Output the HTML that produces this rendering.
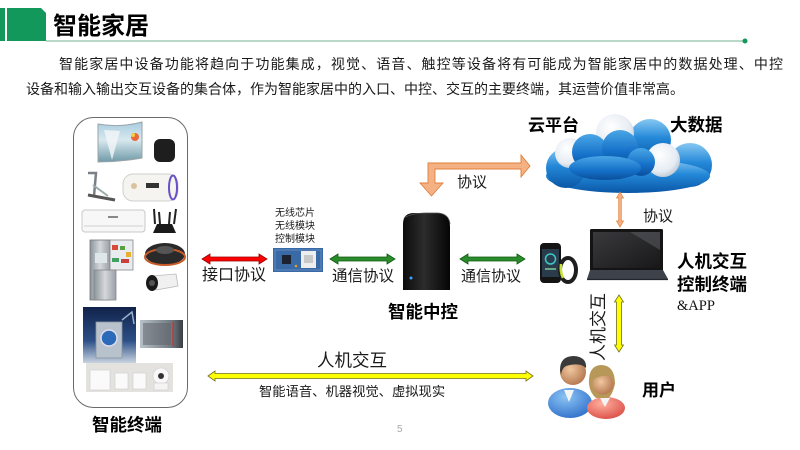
<!DOCTYPE html>
<html><head><meta charset="utf-8">
<style>
html,body{margin:0;padding:0;background:#fff;}
body{width:800px;height:450px;overflow:hidden;position:relative;}
svg{position:absolute;left:0;top:0;}
text{font-family:"Liberation Sans","Noto Sans CJK SC",sans-serif;fill:#1a1a1a;}
.b{font-weight:bold;fill:#000;}
</style></head>
<body>
<svg width="800" height="450" viewBox="0 0 800 450" xmlns="http://www.w3.org/2000/svg">
<defs>
  <linearGradient id="gBlue" x1="0" y1="0" x2="0" y2="1">
    <stop offset="0" stop-color="#86c8f2"/><stop offset="0.45" stop-color="#2488d8"/><stop offset="1" stop-color="#0a56a6"/>
  </linearGradient>
  <linearGradient id="gBlue2" x1="0" y1="0" x2="0" y2="1">
    <stop offset="0" stop-color="#4aa6e6"/><stop offset="0.6" stop-color="#1470c8"/><stop offset="1" stop-color="#0b4f9c"/>
  </linearGradient>
  <radialGradient id="gWhite" cx="0.4" cy="0.35" r="0.7">
    <stop offset="0" stop-color="#ffffff"/><stop offset="0.7" stop-color="#e6ecf3"/><stop offset="1" stop-color="#b9c6d4"/>
  </radialGradient>
  <linearGradient id="gHub" x1="0" y1="0" x2="1" y2="0">
    <stop offset="0" stop-color="#0c0c0c"/><stop offset="0.45" stop-color="#2c2c2c"/><stop offset="0.7" stop-color="#1a1a1a"/><stop offset="1" stop-color="#050505"/>
  </linearGradient>
  <linearGradient id="gScreen" x1="0" y1="0" x2="1" y2="1">
    <stop offset="0" stop-color="#3a3a3e"/><stop offset="1" stop-color="#18181a"/>
  </linearGradient>
  <linearGradient id="gTV" x1="0" y1="0" x2="0" y2="1">
    <stop offset="0" stop-color="#a8cde0"/><stop offset="0.45" stop-color="#d8e8ee"/><stop offset="1" stop-color="#6f9aa8"/>
  </linearGradient>
  <linearGradient id="gSilver" x1="0" y1="0" x2="1" y2="0">
    <stop offset="0" stop-color="#8c939a"/><stop offset="0.5" stop-color="#d4d8dc"/><stop offset="1" stop-color="#9aa0a6"/>
  </linearGradient>
  <linearGradient id="gWash" x1="0" y1="0" x2="0" y2="1">
    <stop offset="0" stop-color="#10224a"/><stop offset="0.6" stop-color="#2c4f86"/><stop offset="1" stop-color="#c9d3e0"/>
  </linearGradient>
  <linearGradient id="gMicro" x1="0" y1="0" x2="1" y2="0">
    <stop offset="0" stop-color="#b8c0c8"/><stop offset="0.75" stop-color="#6e767e"/><stop offset="1" stop-color="#3a3e44"/>
  </linearGradient>
  <radialGradient id="gSkin" cx="0.4" cy="0.4" r="0.7">
    <stop offset="0" stop-color="#f0c8a0"/><stop offset="1" stop-color="#b07048"/>
  </radialGradient>
  <radialGradient id="gShirtB" cx="0.4" cy="0.3" r="0.8">
    <stop offset="0" stop-color="#8cc4f4"/><stop offset="1" stop-color="#2a6ac8"/>
  </radialGradient>
  <radialGradient id="gShirtR" cx="0.4" cy="0.3" r="0.8">
    <stop offset="0" stop-color="#ffb0a0"/><stop offset="1" stop-color="#d84840"/>
  </radialGradient>
</defs>

<!-- Header -->
<rect x="0" y="8" width="5" height="33" fill="#12985a"/>
<path d="M7,8 L41,8 L46,13 L46,41 L7,41 Z" fill="#12985a"/>
<line x1="46" y1="41" x2="745" y2="41" stroke="#8fc2a8" stroke-width="1.2"/>
<circle cx="745" cy="41" r="2.5" fill="#12985a"/>
<text x="53" y="34" class="b" font-size="24">智能家居</text>

<!-- Paragraph -->
<text x="59" y="69" font-size="14" textLength="724" lengthAdjust="spacing">智能家居中设备功能将趋向于功能集成，视觉、语音、触控等设备将有可能成为智能家居中的数据处理、中控</text>
<text x="26" y="94" font-size="14">设备和输入输出交互设备的集合体，作为智能家居中的入口、中控、交互的主要终端，其运营价值非常高。</text>

<!-- Left panel -->
<rect x="73.5" y="117.5" width="114" height="290" rx="20" ry="20" fill="none" stroke="#6a6a6a" stroke-width="1"/>
<!-- TV -->
<path d="M98,124 Q120,128 142,122 L142,158 Q120,162 98,162 Z" fill="url(#gTV)" stroke="#9aa4aa" stroke-width="1"/>
<path d="M104,130 L112,160 L120,131 Z" fill="#f2f6f8" opacity="0.8"/>
<circle cx="135" cy="137" r="4" fill="#e86a3a"/><circle cx="133" cy="135" r="2" fill="#f4d040"/>
<!-- speaker -->
<rect x="154" y="139" width="21" height="23" rx="6" fill="#1e1e1e"/>
<!-- treadmill -->
<path d="M88,173 L96,173 L94,196" stroke="#7a8088" stroke-width="2.5" fill="none"/>
<path d="M88,195 L115,200" stroke="#555" stroke-width="3"/>
<path d="M93,185 L108,196" stroke="#9aa" stroke-width="2"/>
<!-- water heater -->
<rect x="123" y="174" width="55" height="27" rx="10" fill="#f6f4f0" stroke="#cfcfcf"/>
<ellipse cx="173" cy="187.5" rx="4" ry="12" fill="none" stroke="#6a50c8" stroke-width="2"/>
<rect x="146" y="183" width="13" height="5" fill="#333"/>
<circle cx="134" cy="186" r="3" fill="#c8a060" opacity="0.6"/>
<!-- AC -->
<rect x="82" y="210" width="63" height="22" rx="3" fill="#f7f7f7" stroke="#c8c8c8"/>
<line x1="84" y1="226" x2="143" y2="226" stroke="#d0d0d0"/>
<rect x="108" y="216" width="10" height="2" fill="#888"/>
<!-- router -->
<path d="M153,233 L176,233 L172,224 L157,224 Z" fill="#1a1a1a"/>
<path d="M155,224 L154,209 M160,224 L159,212 M169,224 L170,212 M174,224 L176,209" stroke="#222" stroke-width="2"/>
<!-- fridge -->
<rect x="90" y="240" width="20" height="60" fill="url(#gSilver)" stroke="#777" stroke-width="0.8"/>
<rect x="110" y="240" width="23" height="30" fill="#e8ecef" stroke="#888" stroke-width="0.8"/>
<rect x="112" y="245" width="6" height="5" fill="#d84a3a"/><rect x="120" y="246" width="5" height="4" fill="#5aa040"/><rect x="126" y="252" width="5" height="5" fill="#e8b030"/>
<rect x="112" y="258" width="7" height="4" fill="#40a060"/><rect x="121" y="259" width="8" height="4" fill="#c84040"/>
<rect x="95" y="253" width="12" height="10" fill="#dfe6ea"/>
<rect x="94" y="270" width="22" height="30" fill="url(#gSilver)" stroke="#888" stroke-width="0.8"/>
<!-- robot vacuum -->
<ellipse cx="165" cy="254" rx="20" ry="11" fill="#2a2a2a"/>
<ellipse cx="165" cy="257" rx="20" ry="8" fill="none" stroke="#c85a28" stroke-width="2"/>
<ellipse cx="165" cy="250" rx="9" ry="4" fill="#555"/>
<!-- camera -->
<path d="M152,276 L176,274 L178,286 L156,290 Z" fill="#f0f0f0" stroke="#bbb" stroke-width="0.8"/>
<ellipse cx="152" cy="283" rx="6" ry="8" fill="#1a1a1a"/>
<circle cx="152" cy="283" r="3" fill="#555"/>
<!-- washer picture -->
<rect x="83" y="307" width="53" height="56" fill="url(#gWash)"/>
<rect x="96" y="322" width="26" height="36" fill="#b8c2cc" stroke="#8a96a2" stroke-width="0.8"/>
<circle cx="109" cy="338" r="8" fill="#2a6ab8" stroke="#dde" stroke-width="1.5"/>
<path d="M122,320 L132,312 L134,324" stroke="#9ab0c8" stroke-width="1.5" fill="none"/>
<!-- microwave -->
<rect x="140" y="320" width="43" height="28" fill="url(#gMicro)"/>
<rect x="143" y="323" width="28" height="22" fill="#5a6068" opacity="0.5"/>
<line x1="173" y1="322" x2="173" y2="346" stroke="#c83030" stroke-width="1.2"/>
<!-- smart kit -->
<rect x="86" y="363" width="87" height="29" fill="#e4e2de"/>
<rect x="90" y="370" width="20" height="20" fill="#fafafa" stroke="#ccc" stroke-width="0.6"/>
<rect x="115" y="373" width="13" height="16" fill="#fafafa" stroke="#ccc" stroke-width="0.6"/>
<rect x="133" y="373" width="13" height="16" fill="#fafafa" stroke="#ccc" stroke-width="0.6"/>
<circle cx="161" cy="376" r="8" fill="#f8f8f8" stroke="#ccc" stroke-width="0.6"/>
<circle cx="161" cy="376" r="3" fill="#333"/>
<rect x="154" y="383" width="14" height="7" fill="#f4f4f4" stroke="#ccc" stroke-width="0.6"/>
<text x="92" y="431" class="b" font-size="17.5">智能终端</text>

<!-- red arrow -->
<polygon points="202,259 210,254 210,257 259,257 259,254 267,259 259,264 259,261 210,261 210,264" fill="#ff0000" stroke="#9a0000" stroke-width="0.8"/>
<text x="202" y="280" font-size="16">接口协议</text>

<!-- chip -->
<text x="275" y="216" font-size="10">无线芯片</text>
<text x="275" y="229" font-size="10">无线模块</text>
<text x="275" y="242" font-size="10">控制模块</text>
<rect x="273" y="248" width="50" height="24" fill="#3a6aa6"/>
<rect x="275" y="250" width="46" height="20" fill="none" stroke="#7aa0d0" stroke-width="0.6"/>
<rect x="282" y="255" width="9" height="9" fill="#1c2230"/>
<rect x="301" y="251" width="15" height="17" fill="#eeeeee"/>
<rect x="304" y="255" width="9" height="8" fill="#c8c8c8"/>
<circle cx="296" cy="266" r="1.3" fill="#e0a020"/>

<!-- green arrows -->
<polygon points="330,259 338,254 338,257 387,257 387,254 395,259 387,264 387,261 338,261 338,264" fill="#2a8c2a" stroke="#0f5a10" stroke-width="0.8"/>
<text x="332" y="281" font-size="15.5">通信协议</text>
<polygon points="460,259 468,254 468,257 517,257 517,254 525,259 517,264 517,261 468,261 468,264" fill="#2a8c2a" stroke="#0f5a10" stroke-width="0.8"/>
<text x="461" y="281" font-size="15">通信协议</text>

<!-- hub -->
<path d="M403,224 Q403,213 414,213 L438,213 Q450,213 450,227 L450,290 L403,290 Z" fill="url(#gHub)"/>
<path d="M404,218 Q412,213 426,213 L438,213 Q449,214 450,224" fill="none" stroke="#555" stroke-width="0.8"/>
<circle cx="411" cy="278" r="1.5" fill="#3aa0ff"/>
<text x="388" y="318" class="b" font-size="17.5">智能中控</text>

<!-- orange bent arrow -->
<path d="M428,163 L521,163 L521,155 L530,166 L521,177 L521,169 L435,169 L435,183 L443,183 L431.5,196 L420,183 L428,183 Z" fill="#f4b183" stroke="#e0803c" stroke-width="0.9"/>
<text x="457" y="187" font-size="15">协议</text>

<!-- cloud -->
<g>
  <circle cx="650" cy="140" r="21" fill="url(#gBlue)"/>
  <circle cx="690" cy="165" r="22" fill="url(#gBlue)"/>
  <ellipse cx="628" cy="176" rx="82" ry="17" fill="url(#gBlue)"/>
  <circle cx="566" cy="168" r="20" fill="url(#gBlue)"/>
  <circle cx="615" cy="133" r="19" fill="url(#gWhite)"/>
  <circle cx="570" cy="153" r="15" fill="url(#gWhite)"/>
  <circle cx="663" cy="160" r="17" fill="url(#gWhite)"/>
  <circle cx="590" cy="152" r="18" fill="url(#gBlue2)"/>
  <circle cx="620" cy="148" r="18" fill="url(#gBlue2)"/>
  <circle cx="641" cy="162" r="14" fill="url(#gBlue2)"/>
  <ellipse cx="605" cy="168" rx="36" ry="12" fill="url(#gBlue2)"/>
</g>
<text x="528" y="131" class="b" font-size="17">云平台</text>
<text x="670" y="131" class="b" font-size="17.5">大数据</text>

<!-- orange vertical arrow -->
<polygon points="620,192 623.5,198 621.3,198 621.3,221 623.5,221 620,227 616.5,221 618.7,221 618.7,198 616.5,198" fill="#f4b183" stroke="#e0803c" stroke-width="0.7"/>
<text x="643" y="221" font-size="15">协议</text>

<!-- phone + band -->
<rect x="540" y="243" width="21" height="40" rx="4" fill="#141414"/>
<rect x="542" y="249" width="17" height="28" fill="#2a3c4c"/>
<circle cx="550.5" cy="259" r="5" fill="none" stroke="#3cc8c8" stroke-width="1.5"/>
<rect x="545" y="268" width="11" height="2" fill="#6a8"/>
<ellipse cx="568" cy="270" rx="8" ry="12" fill="none" stroke="#1e1e1e" stroke-width="4"/>
<path d="M561,264 Q560,272 563,278" stroke="#c8e030" stroke-width="2.5" fill="none"/>

<!-- laptop -->
<rect x="590" y="229" width="73" height="42" rx="1.5" fill="#141414"/>
<rect x="593" y="232" width="67" height="36" fill="url(#gScreen)"/>
<polygon points="630,232 660,232 660,250" fill="#55575c" opacity="0.6"/>
<polygon points="590,270 663,270 668,279 587,279" fill="#3e424a"/>
<line x1="587" y1="279.5" x2="668" y2="279.5" stroke="#22252a" stroke-width="1.2"/>
<text x="677" y="267.5" class="b" font-size="17.5">人机交互</text>
<text x="677" y="290.5" class="b" font-size="17.5">控制终端</text>
<text x="677" y="310" font-size="14.5" style="font-family:'Liberation Serif',serif;fill:#111">&amp;APP</text>

<!-- yellow vertical arrow -->
<polygon points="619,295 623.5,302 621.5,302 621.5,345 623.5,345 619,352 614.5,345 616.5,345 616.5,302 614.5,302" fill="#ffff00" stroke="#6e6e1e" stroke-width="0.8"/>
<text transform="translate(604,327) rotate(-90)" text-anchor="middle" font-size="17">人机交互</text>

<!-- users -->
<ellipse cx="570" cy="403" rx="22" ry="15" fill="url(#gShirtB)"/>
<path d="M564,390 L574,390 L569,402 Z" fill="#f4f4f4"/>
<circle cx="573" cy="372" r="13" fill="url(#gSkin)"/>
<path d="M560,370 Q560,356 574,356 Q587,357 586,368 Q580,362 566,366 Q562,368 561,375 Z" fill="#3a3a3a"/>
<ellipse cx="606" cy="408" rx="19" ry="11" fill="url(#gShirtR)"/>
<path d="M600,398 L610,398 L605,407 Z" fill="#f4f4f4"/>
<path d="M589,384 Q588,365 602,365 Q615,366 615,384 Q612,396 608,398 L596,398 Q590,393 589,384 Z" fill="#b89858"/>
<circle cx="603" cy="384" r="10.5" fill="url(#gSkin)"/>
<path d="M592,380 Q594,368 604,368 Q613,369 614,379 Q606,372 592,380 Z" fill="#b89858"/>
<text x="642" y="396" class="b" font-size="17">用户</text>

<!-- yellow horizontal arrow -->
<polygon points="208,376 215,371 215,373.5 526,373.5 526,371 533,376 526,381 526,378.5 215,378.5 215,381" fill="#ffff00" stroke="#6e6e1e" stroke-width="0.8"/>
<text x="317" y="366.5" font-size="17.5">人机交互</text>
<text x="259" y="396" font-size="13.3">智能语音、机器视觉、虚拟现实</text>

<text x="397" y="432" font-size="10" style="fill:#aaaaaa">5</text>
</svg>
</body></html>
